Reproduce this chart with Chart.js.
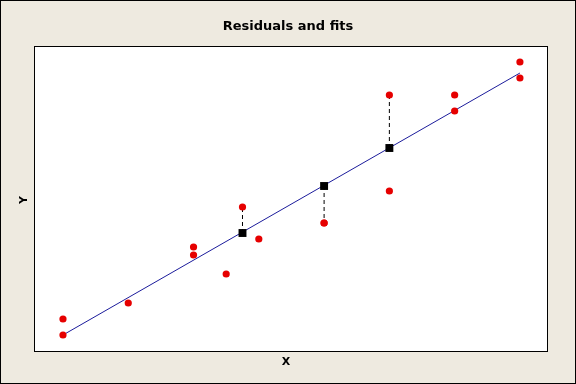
<!DOCTYPE html>
<html>
<head>
<meta charset="utf-8">
<script src="https://cdn.jsdelivr.net/npm/chart.js@4/dist/chart.umd.min.js"></script>
<style>
  html, body { margin: 0; padding: 0; background: #eeeae0; }
  canvas { display: block; }
</style>
</head>
<body>
<canvas id="chart" width="576" height="384"></canvas>
<script>
// observed values
const obsX = [1, 1, 2, 3, 3, 3.5, 3.75, 4, 5, 5, 6, 6, 7, 7, 8, 8];
const obsY = [1.7, 3.3, 4.9, 9.7, 10.5, 7.8, 14.5, 11.3, 12.9, 12.9, 25.7, 16.1, 25.7, 24.1, 29.0, 27.4];

// fitted values shown as squares, and which observation each one is joined to
const fitX = [3.75, 5, 6];
const fitY = [11.9, 16.6, 20.4];
const residIdx = [6, 8, 10];

// regression line end points
const lineX = [1, 8];
const lineY = [1.7, 27.9];

const toPts = (xs, ys) => xs.map((x, i) => ({ x: x, y: ys[i] }));

// dashed residual segments, separated by gaps
const residPts = [];
fitX.forEach((x, i) => {
    residPts.push({ x: x, y: fitY[i] });
    residPts.push({ x: x, y: obsY[residIdx[i]] });
    residPts.push({ x: x, y: null });
});

const frame = {
    id: 'frame',
    beforeDraw(chart) {
        const ctx = chart.ctx;
        const a = chart.chartArea;
        ctx.save();
        ctx.fillStyle = '#eeeae0';
        ctx.fillRect(0, 0, chart.width, chart.height);
        ctx.strokeStyle = '#000';
        ctx.lineWidth = 1;
        ctx.strokeRect(0.5, 0.5, chart.width - 1, chart.height - 1);
        ctx.fillStyle = '#fff';
        ctx.fillRect(a.left, a.top, a.right - a.left, a.bottom - a.top);
        ctx.restore();
    },
    afterDraw(chart) {
        const ctx = chart.ctx;
        const a = chart.chartArea;
        ctx.save();
        ctx.strokeStyle = '#000';
        ctx.lineWidth = 1;
        ctx.strokeRect(a.left + 0.5, a.top + 0.5, a.right - a.left - 1, a.bottom - a.top - 1);

        ctx.fillStyle = '#000';
        ctx.textAlign = 'center';
        ctx.textBaseline = 'middle';
        ctx.font = 'bold 13px "DejaVu Sans"';
        ctx.fillText('Residuals and fits', 288, 27);

        ctx.font = 'bold 11px "DejaVu Sans"';
        ctx.fillText('X', 286, 362);
        ctx.translate(24, 200);
        ctx.rotate(-Math.PI / 2);
        ctx.fillText('Y', 0, 0);
        ctx.restore();
    }
};

new Chart(document.getElementById('chart'), {
    type: 'scatter',
    data: {
        datasets: [
            {
                label: 'Observed',
                data: toPts(obsX, obsY),
                pointRadius: 3.6,
                pointBackgroundColor: '#e60000',
                pointBorderColor: '#e60000',
                pointBorderWidth: 0,
                order: 0
            },
            {
                label: 'Fits',
                data: toPts(fitX, fitY),
                pointStyle: 'rect',
                pointRadius: 5.6,
                pointBackgroundColor: '#000',
                pointBorderColor: '#000',
                pointBorderWidth: 0,
                order: 1
            },
            {
                label: 'Regression',
                type: 'line',
                data: toPts(lineX, lineY),
                borderColor: '#1c1c9c',
                borderWidth: 1,
                pointRadius: 0,
                fill: false,
                order: 2
            },
            {
                label: 'Residuals',
                type: 'line',
                data: residPts,
                borderColor: '#000',
                borderWidth: 1,
                borderDash: [4, 3],
                pointRadius: 0,
                spanGaps: false,
                fill: false,
                order: 3
            }
        ]
    },
    options: {
        responsive: false,
        animation: false,
        devicePixelRatio: 1,
        layout: { padding: { left: 34, top: 46, right: 28, bottom: 32 } },
        plugins: {
            legend: { display: false },
            title: { display: false },
            tooltip: { enabled: false }
        },
        scales: {
            x: { type: 'linear', display: false, min: 0.556, max: 8.43 },
            y: { type: 'linear', display: false, min: 0, max: 30.6 }
        }
    },
    plugins: [frame]
});
</script>
</body>
</html>
